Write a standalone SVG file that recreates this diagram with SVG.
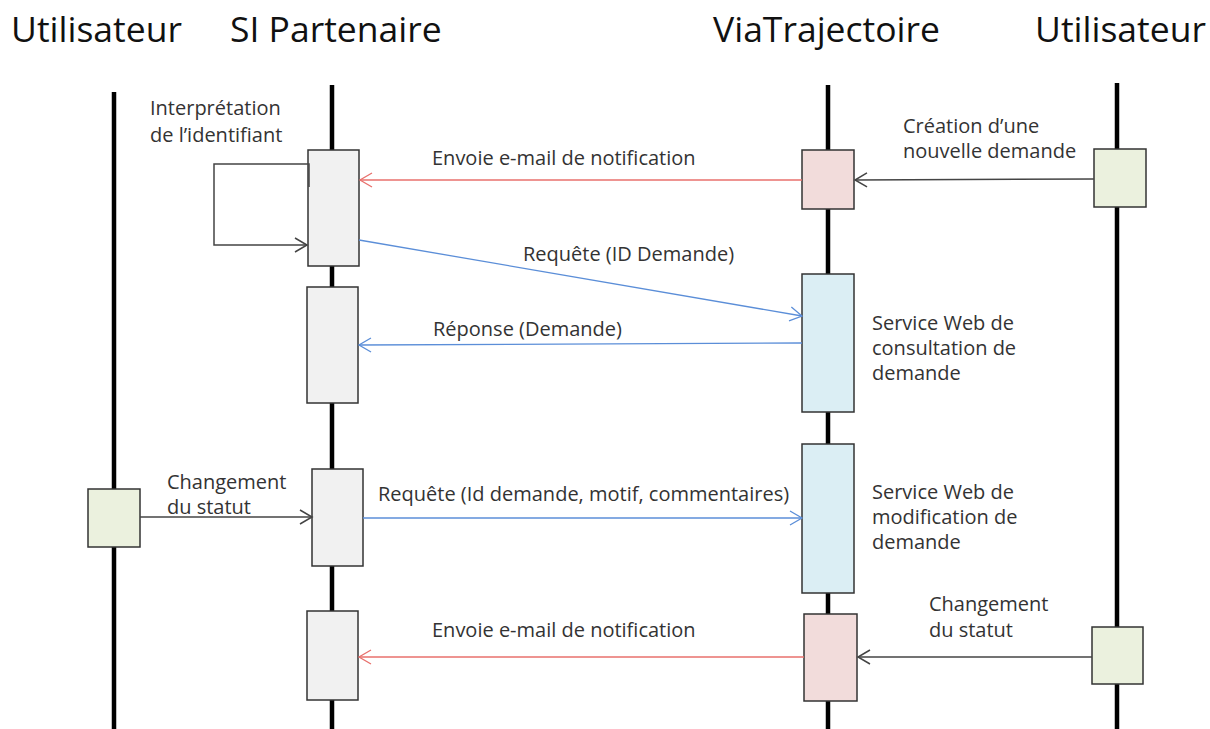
<svg xmlns="http://www.w3.org/2000/svg" width="1210" height="729" viewBox="0 0 1210 729">
<style>
.hdr{font-family:"Open Sans","Liberation Sans",sans-serif;font-size:35.5px;fill:#111}
.lbl{font-family:"Open Sans","Liberation Sans",sans-serif;font-size:20px;fill:#333}
.life{stroke:#000;stroke-width:4.5}
.box{stroke:#333;stroke-width:1.5}
.grey{fill:#f1f1f1}
.pink{fill:#f2dcdb}
.blue{fill:#dbeef4}
.green{fill:#ebf1de}
.ablack{stroke:#444;stroke-width:1.5;fill:none}
.ared{stroke:#e8706c;stroke-width:1.3;fill:none}
.ablue{stroke:#5b8ed8;stroke-width:1.3;fill:none}
</style>
<defs>
<marker id="mBlack" markerUnits="userSpaceOnUse" markerWidth="16" markerHeight="18" refX="13" refY="8" orient="auto"><path d="M1,1 L13,8 L1,15" fill="none" stroke="#444" stroke-width="1.5"/></marker>
<marker id="mRed" markerUnits="userSpaceOnUse" markerWidth="16" markerHeight="18" refX="13" refY="8" orient="auto"><path d="M1,1 L13,8 L1,15" fill="none" stroke="#e8706c" stroke-width="1.3"/></marker>
<marker id="mBlue" markerUnits="userSpaceOnUse" markerWidth="16" markerHeight="18" refX="13" refY="8" orient="auto"><path d="M1,1 L13,8 L1,15" fill="none" stroke="#5b8ed8" stroke-width="1.3"/></marker>
</defs>
<rect width="1210" height="729" fill="#fff"/>
<g id="headers">
<text class="hdr" x="11" y="42">Utilisateur</text>
<text class="hdr" x="230" y="42">SI Partenaire</text>
<text class="hdr" x="713" y="42">ViaTrajectoire</text>
<text class="hdr" x="1035" y="42">Utilisateur</text>
</g>
<g id="lifelines">
<line class="life" x1="114" y1="92" x2="114" y2="729"/>
<line class="life" x1="332" y1="85" x2="332" y2="729"/>
<line class="life" x1="828" y1="85" x2="828" y2="729"/>
<line class="life" x1="1117" y1="83" x2="1117" y2="729"/>
</g>
<g id="si-partenaire">
<rect class="box grey" x="308" y="150" width="51" height="116"/>
<rect class="box grey" x="307" y="287" width="51" height="116"/>
<rect class="box grey" x="312" y="469" width="51" height="97"/>
<rect class="box grey" x="307" y="611" width="51" height="89"/>
</g>
<g id="viatrajectoire">
<rect class="box pink" x="802" y="150" width="52" height="59"/>
<rect class="box blue" x="802" y="274" width="52" height="138"/>
<rect class="box blue" x="802" y="444" width="52" height="149"/>
<rect class="box pink" x="804" y="614" width="53" height="87"/>
</g>
<g id="utilisateur-droite">
<rect class="box green" x="1094" y="149" width="52" height="58"/>
<rect class="box green" x="1092" y="627" width="51" height="57"/>
</g>
<g id="utilisateur-gauche">
<rect class="box green" x="88" y="489" width="52" height="58"/>
</g>
<g id="connectors">
<path class="ablack" d="M309,187 V164 H214 V245 H307" marker-end="url(#mBlack)"/>
<line class="ablack" x1="1094" y1="179" x2="855" y2="180" marker-end="url(#mBlack)"/>
<line class="ared" x1="802" y1="180" x2="360" y2="180" marker-end="url(#mRed)"/>
<line class="ablue" x1="359" y1="240" x2="802" y2="316" marker-end="url(#mBlue)"/>
<line class="ablue" x1="802" y1="343" x2="359" y2="345" marker-end="url(#mBlue)"/>
<line class="ablack" x1="140" y1="517" x2="312" y2="517" marker-end="url(#mBlack)"/>
<line class="ablue" x1="363" y1="518" x2="802" y2="518" marker-end="url(#mBlue)"/>
<line class="ablack" x1="1092" y1="657" x2="858" y2="657" marker-end="url(#mBlack)"/>
<line class="ared" x1="804" y1="657" x2="359" y2="657" marker-end="url(#mRed)"/>
</g>
<g id="labels">
<text class="lbl" x="150" y="115">Interprétation</text>
<text class="lbl" x="150" y="142">de l’identifiant</text>
<text class="lbl" x="432" y="165">Envoie e-mail de notification</text>
<text class="lbl" x="903" y="133">Création d’une</text>
<text class="lbl" x="903" y="158">nouvelle demande</text>
<text class="lbl" x="523" y="261">Requête (ID Demande)</text>
<text class="lbl" x="433" y="336">Réponse (Demande)</text>
<text class="lbl" x="872" y="330">Service Web de</text>
<text class="lbl" x="872" y="355">consultation de</text>
<text class="lbl" x="872" y="380">demande</text>
<text class="lbl" x="167" y="489">Changement</text>
<text class="lbl" x="167" y="514">du statut</text>
<text class="lbl" x="378" y="501">Requête (Id demande, motif, commentaires)</text>
<text class="lbl" x="872" y="499">Service Web de</text>
<text class="lbl" x="872" y="524">modification de</text>
<text class="lbl" x="872" y="549">demande</text>
<text class="lbl" x="929" y="611">Changement</text>
<text class="lbl" x="929" y="637">du statut</text>
<text class="lbl" x="432" y="637">Envoie e-mail de notification</text>
</g>
</svg>
